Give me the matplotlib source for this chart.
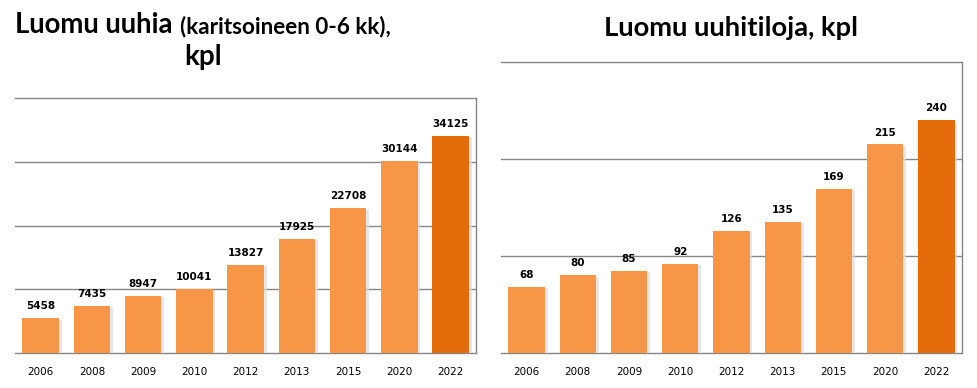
import matplotlib
matplotlib.use("Agg")

import matplotlib.pyplot as plt
import matplotlib.patheffects as pe

# ---------- Data ----------
years = ["2006", "2008", "2009", "2010", "2012", "2013", "2015", "2020", "2022"]
ewes = [5458, 7435, 8947, 10041, 13827, 17925, 22708, 30144, 34125]
farms = [68, 80, 85, 92, 126, 135, 169, 215, 240]

bar_color = "#F79646"
last_color = "#E46C0A"
grid_color = "#868686"
title_font = ["Lato", "DejaVu Sans"]

fig = plt.figure(figsize=(9.77, 3.88), dpi=100)

ax_left = fig.add_axes([0.0154, 0.0902, 0.472, 0.657])
ax_right = fig.add_axes([0.5128, 0.0902, 0.4718, 0.750])


def draw_bars(ax, values, ymax, step):
    colors = [bar_color] * (len(values) - 1) + [last_color]
    bars = ax.bar(range(len(values)), values, width=0.71, color=colors, zorder=3,
                  path_effects=[pe.SimplePatchShadow(offset=(2, -1), shadow_rgbFace="#dcdcdc", alpha=0.7),
                                pe.Normal()])
    for rect, v in zip(bars, values):
        ax.annotate(str(v), (rect.get_x() + rect.get_width() / 2, v),
                    xytext=(0, 5), textcoords="offset points",
                    ha="center", va="bottom", fontsize=7.5, fontweight="bold")

    ax.set_xlim(-0.5, len(values) - 0.5)
    ax.set_ylim(0, ymax)
    ax.set_xticks(range(len(values)))
    ax.set_xticklabels(years, fontsize=7.5)
    ax.set_yticks([step * i for i in range(1, int(ymax / step))])
    ax.set_yticklabels([])
    ax.tick_params(length=0, pad=10)
    ax.yaxis.grid(True, color=grid_color, linewidth=1)
    ax.set_axisbelow(True)

    ax.spines["left"].set_visible(False)
    for s in ["top", "right", "bottom"]:
        ax.spines[s].set_color(grid_color)
        ax.spines[s].set_linewidth(1)


draw_bars(ax_left, ewes, 40000, 10000)
draw_bars(ax_right, farms, 300, 100)

# ---------- Titles ----------
fig.text(15 / 977, 1 - 33 / 388, "Luomu uuhia", fontsize=19.8, fontweight="bold",
         family=title_font, ha="left", va="baseline")
fig.text(180 / 977, 1 - 33 / 388, "(karitsoineen 0-6 kk),", fontsize=16.2, fontweight="bold",
         family=title_font, ha="left", va="baseline")
fig.text(203 / 977, 1 - 65 / 388, "kpl", fontsize=20, fontweight="bold",
         family=title_font, ha="center", va="baseline")

fig.text(731 / 977, 1 - 36 / 388, "Luomu uuhitiloja, kpl", fontsize=19.7, fontweight="bold",
         family=title_font, ha="center", va="baseline")

fig.savefig("out.png", dpi=100)
